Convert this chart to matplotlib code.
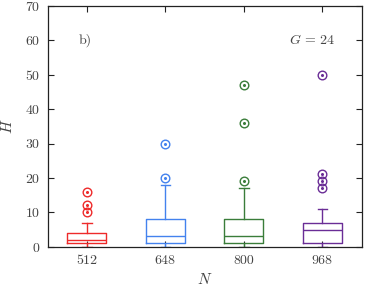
import matplotlib
matplotlib.use("Agg")
import matplotlib.pyplot as plt

plt.rcParams['mathtext.fontset'] = 'cm'
plt.rcParams['font.family'] = ['cmr10', 'DejaVu Serif']
plt.rcParams['axes.formatter.use_mathtext'] = True

categories = ["512", "648", "800", "968"]
whislo = [0, 0, 0, 0]
q1 = [1, 1, 1, 1]
med = [2, 3, 3, 5]
q3 = [4, 8, 8, 7]
whishi = [7, 18, 17, 11]
fliers = [[10, 12, 16], [20, 30], [19, 36, 47], [17, 19, 21, 50]]
colors = ["#ee2a2a", "#4382ee", "#3a7d3a", "#6a2d96"]

fig = plt.figure(figsize=(3.66, 2.87), dpi=100)
ax = fig.add_axes([0.130, 0.140, 0.858, 0.840])

for i in range(len(categories)):
    st = [dict(whislo=whislo[i], q1=q1[i], med=med[i], q3=q3[i],
               whishi=whishi[i], fliers=fliers[i], label=categories[i])]
    c = colors[i]
    ax.bxp(st, positions=[i + 1], widths=0.5, capwidths=0.12,
           boxprops=dict(color=c, linewidth=1.0),
           whiskerprops=dict(color=c, linewidth=1.0),
           capprops=dict(color=c, linewidth=1.0),
           medianprops=dict(color=c, linewidth=1.0),
           flierprops=dict(marker='o', markerfacecolor='none',
                           markeredgecolor=c, markersize=6.2,
                           markeredgewidth=1.0),
           manage_ticks=False)
    ax.plot([i + 1] * len(fliers[i]), fliers[i], linestyle='none',
            marker='o', markersize=1.2, color=c)

ax.set_xlim(0.5, 4.5)
ax.set_ylim(0, 70)
ax.set_xticks(range(1, len(categories) + 1))
ax.set_xticklabels(categories)
ax.set_yticks(range(0, 71, 10))
ax.tick_params(direction='in', length=4, width=0.8, color='#222222',
               labelsize=10, labelcolor='#444444', top=True, right=True)
ax.tick_params(axis='y', pad=5)
ax.tick_params(axis='x', pad=6)
for s in ax.spines.values():
    s.set_linewidth(0.9)
    s.set_color('#222222')

ax.set_xlabel('$N$', fontsize=11, color='#444444')
ax.set_ylabel('$H$', fontsize=11, color='#444444')
ax.xaxis.set_label_coords(0.5, -0.137)
ax.xaxis.label.set_va('center')
ax.yaxis.set_label_coords(-0.129, 0.5)
ax.yaxis.label.set_va('center')
ax.text(0.119, 60, 'b)', transform=ax.get_yaxis_transform(), fontsize=10,
        color='#444444', ha='center', va='center')
ax.text(0.842, 60, '$G$ = 24', transform=ax.get_yaxis_transform(),
        fontsize=10, color='#444444', ha='center', va='center')

fig.savefig('out.png', dpi=100)
